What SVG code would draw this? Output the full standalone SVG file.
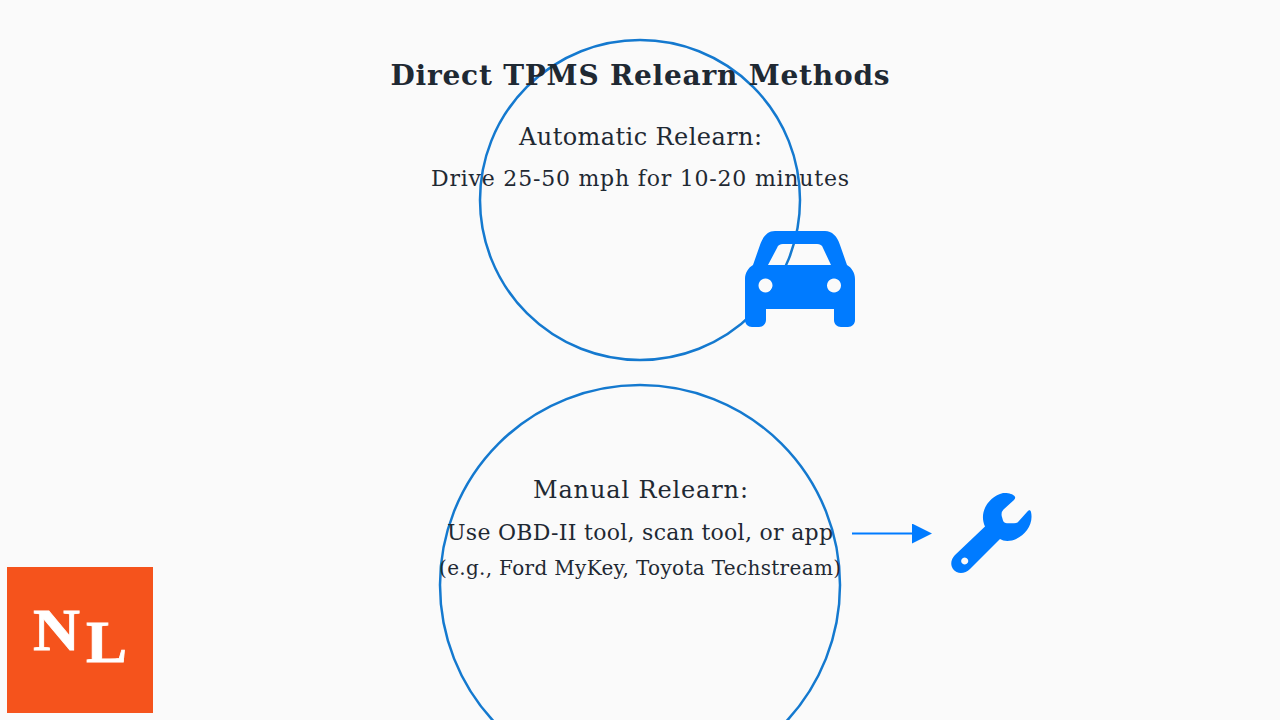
<svg xmlns="http://www.w3.org/2000/svg" width="1280" height="720" viewBox="0 0 1280 720">
<style>
text{font-family:"DejaVu Serif",serif;fill:#1f2933;text-anchor:middle}
.ring{fill:none;stroke:#1479cf;stroke-width:2.500}
.icon{fill:#007bff}
.t{font-size:24px}
.s{font-size:22px}
.x{font-size:20px}
.logo{font-family:"Liberation Serif",serif;font-weight:700;font-size:60px;fill:#fff;stroke:#fff;stroke-width:.8;text-anchor:start}
</style>
<defs><marker id="ah" markerUnits="userSpaceOnUse" markerWidth="20" markerHeight="20" refX="0" refY="10" orient="auto"><path d="M0 0L20 10L0 20z" fill="#007bff"/></marker></defs>
<rect width="1280" height="720" fill="#fafafa"/>
<g id="node-auto"><circle class="ring" cx="640" cy="200" r="160"/>
<text class="t" x="640.500" y="144.500" textLength="243">Automatic Relearn:</text>
<text class="s" x="640" y="186" textLength="418">Drive 25-50 mph for 10-20 minutes</text></g>
<g id="node-manual"><circle class="ring" cx="640" cy="585" r="200"/>
<text class="t" x="640.500" y="498" textLength="215">Manual Relearn:</text>
<text class="s" x="640" y="540" textLength="386">Use OBD-II tool, scan tool, or app</text>
<text class="x" x="640" y="575" textLength="402">(e.g., Ford MyKey, Toyota Techstream)</text></g>
<text id="title" x="640" y="85" font-size="28" font-weight="700" textLength="499">Direct TPMS Relearn Methods</text>
<g id="node-car"><path class="icon" fill-rule="evenodd" d="M775 231H825C832 231 837 236 840 245L847 265C852 268 855 273 855 279V320C855 324 852 327 848 327H841C837 327 834 324 834 320V309H766V320C766 324 763 327 759 327H752C748 327 745 324 745 320V279C745 273 748 268 753 265L760 245C763 236 768 231 775 231ZM783 244H817C820 244 822 245 823 248L831 265H768L777 248C778 245 780 244 783 244ZM765.500 278.500A7 7 0 1 0 765.501 278.500ZM834 278.500A7 7 0 1 0 834.001 278.500Z"/></g>
<g id="node-wrench"><path class="icon" fill-rule="evenodd" d="M1003 493C1008 492.500 1013 494 1014.500 496C1015.500 497.500 1015.500 498.500 1014 500L1003.500 509.500Q1001 512 1001.700 516L1003 520.500Q1004 523.300 1007 523.300L1014 523.300Q1016.500 523.300 1018 522L1027 512C1029 509.500 1030.500 510 1031 512C1034 525 1024 537 1012 540.500C1007 541.500 1003 541 1000 539L970 569C965 574 957 574.500 953 569C950 564.500 951 559 955 555L985 526.500C978 511 990 496 1003 493ZM964.700 557.500A3.500 3.500 0 1 0 964.701 557.500Z"/></g>
<g id="connectors"><path d="M852 533.500H912" fill="none" stroke="#007bff" stroke-width="2" marker-end="url(#ah)"/></g>
<g id="node-logo"><rect x="7" y="567" width="146" height="146" fill="#f5531c"/>
<text class="logo" x="33" y="650" textLength="47" lengthAdjust="spacingAndGlyphs">N</text>
<text class="logo" x="86" y="662" textLength="41" lengthAdjust="spacingAndGlyphs">L</text></g>
</svg>
